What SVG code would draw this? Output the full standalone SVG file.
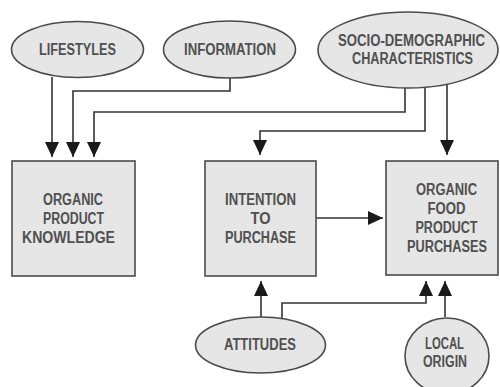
<svg xmlns="http://www.w3.org/2000/svg" width="500" height="387" viewBox="0 0 500 387">
<defs>
<marker id="arr" markerUnits="userSpaceOnUse" markerWidth="16" markerHeight="16" viewBox="0 0 16 16" refX="15" refY="8" orient="auto">
<path d="M0,1 L15,8 L0,15 Z" fill="#1a1a1a"/>
</marker>
<style>
.n{fill:#e6e6e6;stroke:#4a4a4a;stroke-width:1.6}
.c{fill:none;stroke:#333;stroke-width:1.6;marker-end:url(#arr)}
text{font-family:"Liberation Sans",Arial,sans-serif;font-weight:bold;font-size:16px;fill:#505050;text-anchor:middle}
</style>
</defs>
<rect width="500" height="387" fill="#fff"/>
<g id="connectors">
<path class="c" d="M52,77 V157"/>
<path class="c" d="M230,78 V91 H73 V157"/>
<path class="c" d="M405,87 V112 H94 V157"/>
<path class="c" d="M425,86 V131 H260 V155"/>
<path class="c" d="M447,84 V155"/>
<path class="c" d="M316,218 H383"/>
<path class="c" d="M261,317 V281"/>
<path class="c" d="M282,319 V303 H426 V281"/>
<path class="c" d="M445,317 V281"/>
</g>
<g id="lifestyles">
<ellipse class="n" cx="77.5" cy="49.5" rx="66" ry="28"/>
<text transform="translate(77.5,55) scale(0.82,1)" textLength="93.9" lengthAdjust="spacingAndGlyphs">LIFESTYLES</text>
</g>
<g id="information">
<ellipse class="n" cx="229.5" cy="49.5" rx="66" ry="28.5"/>
<text transform="translate(230,55) scale(0.82,1)" textLength="112.2" lengthAdjust="spacingAndGlyphs">INFORMATION</text>
</g>
<g id="socio-demographic">
<ellipse class="n" cx="408" cy="50" rx="90" ry="38"/>
<text transform="translate(411.5,46) scale(0.82,1)" textLength="179.3" lengthAdjust="spacingAndGlyphs">SOCIO-DEMOGRAPHIC</text>
<text transform="translate(412.5,64) scale(0.82,1)" textLength="147.6" lengthAdjust="spacingAndGlyphs">CHARACTERISTICS</text>
</g>
<g id="knowledge">
<rect class="n" x="12" y="161" width="123" height="115"/>
<text transform="translate(73,205) scale(0.82,1)" textLength="73.2" lengthAdjust="spacingAndGlyphs">ORGANIC</text>
<text transform="translate(73.5,224) scale(0.82,1)" textLength="74.4" lengthAdjust="spacingAndGlyphs">PRODUCT</text>
<text transform="translate(68.5,243) scale(0.82,1)" textLength="113.4" lengthAdjust="spacingAndGlyphs">KNOWLEDGE</text>
</g>
<g id="intention">
<rect class="n" x="205" y="161" width="111" height="115"/>
<text transform="translate(260.5,205) scale(0.82,1)" textLength="86.6" lengthAdjust="spacingAndGlyphs">INTENTION</text>
<text transform="translate(260.5,224) scale(0.82,1)" textLength="24.4" lengthAdjust="spacingAndGlyphs">TO</text>
<text transform="translate(260.5,243) scale(0.82,1)" textLength="86.6" lengthAdjust="spacingAndGlyphs">PURCHASE</text>
</g>
<g id="purchases">
<rect class="n" x="386" y="161" width="112" height="114"/>
<text transform="translate(446.5,195) scale(0.82,1)" textLength="74.4" lengthAdjust="spacingAndGlyphs">ORGANIC</text>
<text transform="translate(446.5,214) scale(0.82,1)" textLength="46.3" lengthAdjust="spacingAndGlyphs">FOOD</text>
<text transform="translate(446.5,233) scale(0.82,1)" textLength="75.6" lengthAdjust="spacingAndGlyphs">PRODUCT</text>
<text transform="translate(447,252) scale(0.82,1)" textLength="97.6" lengthAdjust="spacingAndGlyphs">PURCHASES</text>
</g>
<g id="attitudes">
<ellipse class="n" cx="260.5" cy="345" rx="65" ry="28"/>
<text transform="translate(260,350) scale(0.82,1)" textLength="87.8" lengthAdjust="spacingAndGlyphs">ATTITUDES</text>
</g>
<g id="local-origin">
<ellipse class="n" cx="447" cy="356" rx="42" ry="38"/>
<text transform="translate(444.5,349) scale(0.82,1)" textLength="47.6" lengthAdjust="spacingAndGlyphs">LOCAL</text>
<text transform="translate(445,367) scale(0.82,1)" textLength="53.7" lengthAdjust="spacingAndGlyphs">ORIGIN</text>
</g>
</svg>
